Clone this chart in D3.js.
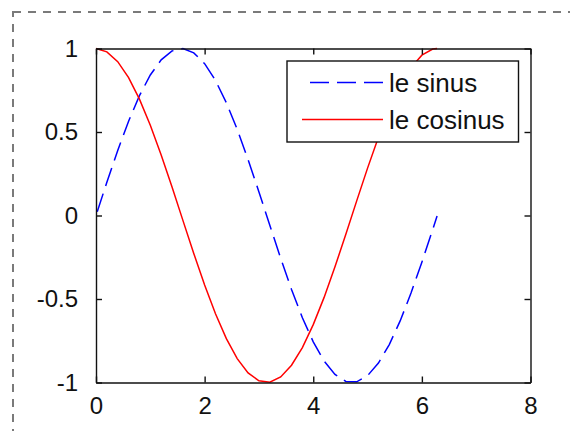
<!DOCTYPE html>
<html>
<head>
<meta charset="utf-8">
<script src="https://cdn.jsdelivr.net/npm/d3@7"></script>
<style>
  html, body { margin: 0; padding: 0; background: #fff; overflow: hidden; }
  svg { display: block; }
  text { font-family: "Liberation Sans", Arial, sans-serif; fill: #111; }
</style>
</head>
<body>
<svg id="chart" width="570" height="431"></svg>
<script>
// Sample abscissas (radians) and the two curves drawn over them
const xs = [0, 0.2, 0.4, 0.6, 0.8, 1.0, 1.2, 1.4, 1.6, 1.8, 2.0, 2.2, 2.4, 2.6, 2.8, 3.0,
            3.2, 3.4, 3.6, 3.8, 4.0, 4.2, 4.4, 4.6, 4.8, 5.0, 5.2, 5.4, 5.6, 5.8, 6.0, 6.2, 6.28];
const sinus = [0, 0.1987, 0.3894, 0.5646, 0.7174, 0.8415, 0.9320, 0.9854, 0.9996, 0.9738,
               0.9093, 0.8085, 0.6755, 0.5155, 0.3350, 0.1411, -0.0584, -0.2555, -0.4425,
               -0.6119, -0.7568, -0.8716, -0.9516, -0.9937, -0.9962, -0.9589, -0.8835,
               -0.7728, -0.6313, -0.4646, -0.2794, -0.0831, -0.0032];
const cosinus = [1, 0.9801, 0.9211, 0.8253, 0.6967, 0.5403, 0.3624, 0.1700, -0.0292, -0.2272,
                 -0.4161, -0.5885, -0.7374, -0.8569, -0.9422, -0.9900, -0.9983, -0.9668,
                 -0.8968, -0.7910, -0.6536, -0.4903, -0.3073, -0.1122, 0.0875, 0.2837,
                 0.4685, 0.6347, 0.7756, 0.8855, 0.9602, 0.9965, 1.0];
const xTicks = [0, 2, 4, 6, 8];
const yTicks = [-1, -0.5, 0, 0.5, 1];
const yTickLabels = ["-1", "-0.5", "0", "0.5", "1"];
const seriesNames = ["le sinus", "le cosinus"];

const svg = d3.select("#chart");

// Dashed frame around the figure
svg.append("rect")
  .attr("x", 13).attr("y", 12)
  .attr("width", 620).attr("height", 500)
  .attr("fill", "none")
  .attr("stroke", "#7a7a7a")
  .attr("stroke-width", 2)
  .attr("stroke-dasharray", "8,7");

const plot = { left: 96, right: 530.5, top: 48.5, bottom: 382.5 };

const x = d3.scaleLinear().domain([0, 8]).range([plot.left, plot.right]);
const y = d3.scaleLinear().domain([-1, 1]).range([plot.bottom, plot.top]);

function path(values) {
  return d3.line()
    .x((d, i) => x(xs[i]))
    .y(d => y(d))(values);
}

// Curves
svg.append("path")
  .attr("d", path(sinus))
  .attr("fill", "none")
  .attr("stroke", "#0000ff")
  .attr("stroke-width", 1.5)
  .attr("stroke-dasharray", "19,8")
  .attr("stroke-dashoffset", 23);

svg.append("path")
  .attr("d", path(cosinus))
  .attr("fill", "none")
  .attr("stroke", "#ff0000")
  .attr("stroke-width", 1.5);

// Box axes with inward ticks on all four sides
const tickLen = 6;
const axisStyle = g => {
  g.select(".domain").attr("stroke", "#111").attr("stroke-width", 1.4);
  g.selectAll(".tick line").attr("stroke", "#111").attr("stroke-width", 1.4);
  g.selectAll(".tick text")
    .style("font-family", '"Liberation Sans", Arial, sans-serif')
    .style("font-size", "24px")
    .attr("fill", "#111");
};

svg.append("g")
  .attr("transform", `translate(0,${plot.bottom})`)
  .call(d3.axisBottom(x).tickValues(xTicks).tickFormat(d3.format("d"))
    .tickSizeInner(-tickLen).tickSizeOuter(0).tickPadding(14))
  .call(axisStyle);

svg.append("g")
  .attr("transform", `translate(0,${plot.top})`)
  .call(d3.axisTop(x).tickValues(xTicks).tickFormat("")
    .tickSizeInner(-tickLen).tickSizeOuter(0))
  .call(axisStyle);

svg.append("g")
  .attr("transform", `translate(${plot.left},0)`)
  .call(d3.axisLeft(y).tickValues(yTicks).tickFormat((d, i) => yTickLabels[i])
    .tickSizeInner(-tickLen).tickSizeOuter(0).tickPadding(18))
  .call(axisStyle);

svg.append("g")
  .attr("transform", `translate(${plot.right},0)`)
  .call(d3.axisRight(y).tickValues(yTicks).tickFormat("")
    .tickSizeInner(-tickLen).tickSizeOuter(0))
  .call(axisStyle);

// Legend
const legend = svg.append("g");
legend.append("rect")
  .attr("x", 287).attr("y", 61)
  .attr("width", 231.5).attr("height", 81)
  .attr("fill", "#fff")
  .attr("stroke", "#111")
  .attr("stroke-width", 1.4);

const legendRows = [
  { name: seriesNames[0], color: "#0000ff", dash: "19,8", y: 82.5 },
  { name: seriesNames[1], color: "#ff0000", dash: null, y: 119.5 }
];
legendRows.forEach(r => {
  legend.append("line")
    .attr("x1", 302).attr("x2", 383)
    .attr("y1", r.y).attr("y2", r.y)
    .attr("stroke", r.color)
    .attr("stroke-width", 1.5)
    .attr("stroke-dasharray", r.dash)
    .attr("stroke-dashoffset", r.dash ? 19 : null);
  legend.append("text")
    .attr("x", 389).attr("y", r.y)
    .attr("dy", "0.35em")
    .style("font-size", "26px")
    .text(r.name);
});
</script>
</body>
</html>
